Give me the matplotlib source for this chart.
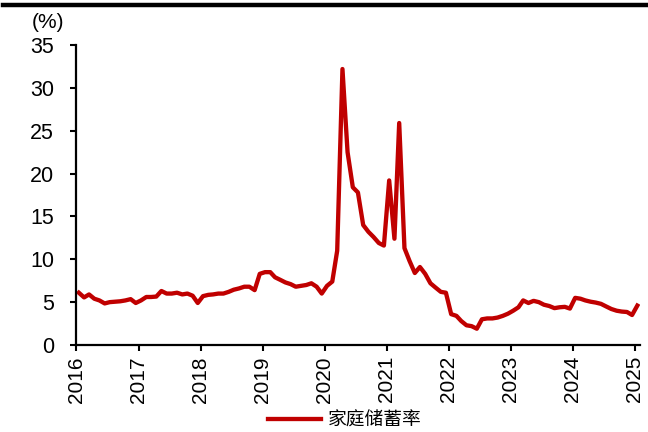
import matplotlib
matplotlib.use("Agg")
import matplotlib.pyplot as plt
import matplotlib.dates as mdates
from matplotlib.lines import Line2D
import pandas as pd

plt.rcParams['font.family'] = ['Liberation Sans', 'DejaVu Sans']

# monthly household saving rate, Jan 2016 - Jan 2025 (%)
saving_rate = [
    6.1, 5.55, 5.9, 5.4, 5.2, 4.85, 5.0, 5.05, 5.1, 5.2, 5.35, 4.9,      # 2016
    5.2, 5.6, 5.6, 5.65, 6.3, 6.0, 6.0, 6.1, 5.9, 6.0, 5.75, 4.9,        # 2017
    5.7, 5.85, 5.9, 6.0, 6.0, 6.2, 6.45, 6.6, 6.8, 6.8, 6.4, 8.3,        # 2018
    8.5, 8.5, 7.9, 7.6, 7.3, 7.1, 6.8, 6.9, 7.0, 7.2, 6.8, 6.0,          # 2019
    6.9, 7.4, 11.0, 32.2, 22.5, 18.4, 17.8, 14.0, 13.2, 12.6, 11.9, 11.6,  # 2020
    19.2, 12.4, 25.9, 11.3, 9.8, 8.4, 9.1, 8.3, 7.2, 6.7, 6.2, 6.1,      # 2021
    3.6, 3.4, 2.8, 2.3, 2.2, 1.9, 3.0, 3.1, 3.1, 3.2, 3.4, 3.65,         # 2022
    4.0, 4.4, 5.2, 4.9, 5.15, 5.0, 4.7, 4.55, 4.3, 4.4, 4.45, 4.25,      # 2023
    5.5, 5.4, 5.2, 5.05, 4.95, 4.8, 4.5, 4.2, 4.0, 3.9, 3.85, 3.5,       # 2024
    4.6,                                                                 # 2025
]
months = pd.date_range('2016-01-01', periods=len(saving_rate), freq='MS') + pd.Timedelta(days=14)
year_ticks = pd.date_range('2016-01-01', '2025-01-01', freq='YS')
y_ticks = [0, 5, 10, 15, 20, 25, 30, 35]
series_name = '家庭储蓄率'

fig = plt.figure(figsize=(6.48, 4.32), dpi=100)
ax = fig.add_axes([0.118, 0.2014, 0.870, 0.6944])

ax.plot(months, saving_rate, color='#C00000', lw=3.1, solid_joinstyle='round')

ax.set_ylim(0, 35)
ax.set_yticks(y_ticks)
ax.set_xlim(year_ticks[0], pd.Timestamp('2025-02-01'))
ax.set_xticks(year_ticks)
ax.xaxis.set_major_formatter(mdates.DateFormatter('%Y'))
ax.tick_params(axis='x', labelrotation=90, labelsize=15, length=4, width=1.5, direction='out', pad=4)
ax.tick_params(axis='y', labelsize=15.5, length=4, width=1.5, direction='out', pad=12)

for s in ['top', 'right']:
    ax.spines[s].set_visible(False)
for s in ['left', 'bottom']:
    ax.spines[s].set_linewidth(1.6)

fig.text(0.049, 0.927, '(%)', fontsize=15, ha='left', va='bottom')

# thick black rule across the top
fig.add_artist(Line2D([0.005, 1.0], [0.988, 0.988], color='black', lw=3.2, transform=fig.transFigure))

handle = Line2D([], [], color='#C00000', lw=3.1)
fig.legend([handle], [series_name], loc='lower center', bbox_to_anchor=(0.532, -0.036),
           frameon=False, handlelength=2.8, handletextpad=0.35,
           prop={'family': ['Noto Sans CJK SC', 'DejaVu Sans'], 'size': 13.5})

fig.savefig('out.png', dpi=100)
